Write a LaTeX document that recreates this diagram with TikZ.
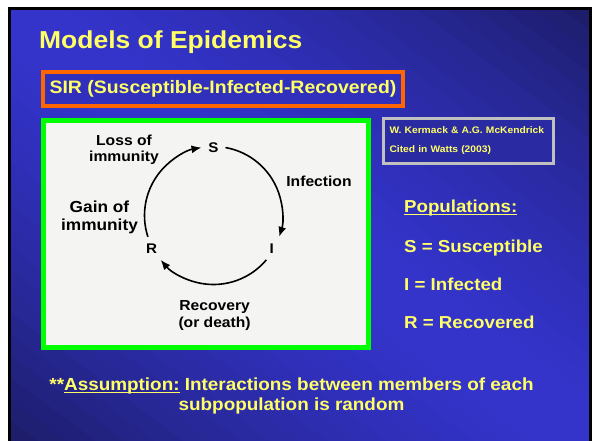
\documentclass[tikz,border=0pt]{standalone}
\usepackage{fontspec}
\setmainfont{Liberation Sans}[FakeStretch=1.08]
\usetikzlibrary{arrows.meta}
\definecolor{slidelight}{RGB}{52,52,204}
\definecolor{slidedark}{RGB}{28,28,104}
\definecolor{slideyellow}{RGB}{255,255,102}
\definecolor{boxorange}{RGB}{255,102,0}
\definecolor{boxgreen}{RGB}{0,255,0}
\definecolor{boxgrey}{RGB}{192,192,192}
\definecolor{paper}{RGB}{244,244,242}
\newcommand{\px}[2]{\fontsize{#1}{#2}\selectfont\bfseries}
\tikzset{
  >={Latex[length=10pt,width=8pt]},
}
\tikzstyle{every node}=[inner sep=0pt]
\tikzstyle{slidetext}=[text=slideyellow]
\tikzstyle{flow}=[line width=1.6pt,->]
\tikzstyle{state}=[font=\px{14}{16}]
\tikzstyle{cyclabel}=[align=center,font=\px{14.5}{16}]

\begin{document}
\begin{tikzpicture}[x=1pt,y=1pt]
  \useasboundingbox (0,0) rectangle (594,-441);
  \fill[white] (0,0) rectangle (594,-441);
  % slide background, bright along the main diagonal
  \begin{scope}[shift={(9.5,-8.5)},x=581pt,y=-433pt]
    \clip (0,0) rectangle (1,1);
    \foreach \k in {0,...,39}{
      \pgfmathsetmacro\lt{100*(1-abs(-1+(\k+0.5)/20)^1.5)}
      \fill[slidelight!\lt!slidedark] ({-1+\k/20},0) -- ({-1+(\k+1)/20+0.01},0)
        -- ({(\k+1)/20+0.01},1) -- ({\k/20},1) -- cycle;
    }
  \end{scope}
  \draw[line width=3pt] (9.5,-445) |- (590.5,-8.5) -- (590.5,-445);

  \node[slidetext,anchor=base west,font=\px{24.5}{29}] (title) at (39,-49) {Models of Epidemics};
  \node[slidetext,draw=boxorange,line width=3.5pt,fill=slidelight!92!black,
    minimum width=360,minimum height=34,font=\px{18}{21}] (sir) at (223,-89)
    {SIR (Susceptible-Infected-Recovered)};
  \node[slidetext,draw=boxgrey,line width=3pt,fill=slidelight!80!black,
    minimum width=170,minimum height=45,text width=158,align=left,font=\px{9.5}{19}]
    (ref) at (468.5,-141) {W. Kermack \& A.G. McKendrick\\Cited in Watts (2003)};

  % the SIR cycle
  \node[draw=boxgreen,line width=4.5pt,fill=paper,minimum width=325,minimum height=227]
    (diag) at (206,-234) {};
  \coordinate (cyc) at (213.5,-215.5);
  \node[state] (S) at (213.5,-148) {S};
  \node[state] (I) at (271.7,-248.5) {I};
  \node[state] (R) at (151.7,-248.5) {R};
  \draw[flow] ([shift={(80:69)}]cyc) arc[start angle=80,end angle=-18,radius=69pt];
  \draw[flow] ([shift={(-40:69)}]cyc) arc[start angle=-40,end angle=-140,radius=69pt];
  \draw[flow] ([shift={(198:69)}]cyc) arc[start angle=198,end angle=100,radius=69pt];
  \node[cyclabel] (loss) at (124,-150) {Loss of\\immunity};
  \node[cyclabel] (infect) at (319,-181) {Infection};
  \node[cyclabel,font=\px{16}{18}] (gain) at (99.5,-217) {Gain of\\immunity};
  \node[cyclabel,font=\px{14.5}{17}] (recov) at (214.6,-315.7) {Recovery\\(or death)};

  % populations
  \node[slidetext,anchor=base west,font=\px{17.3}{20}] (pophead) at (404,-212.7) {\underline{\smash{Populations:}}};
  \node[slidetext,anchor=base west,font=\px{17.3}{20}] (popS) at (404,-252.7) {S = Susceptible};
  \node[slidetext,anchor=base west,font=\px{17.3}{20}] (popI) at (404,-290) {I = Infected};
  \node[slidetext,anchor=base west,font=\px{17.3}{20}] (popR) at (404,-328) {R = Recovered};

  \node[slidetext,align=center,font=\px{17.5}{20}] (assume) at (291.5,-396)
    {**\underline{\smash{Assumption:}} Interactions between members of each\\subpopulation is random};
\end{tikzpicture}
\end{document}
